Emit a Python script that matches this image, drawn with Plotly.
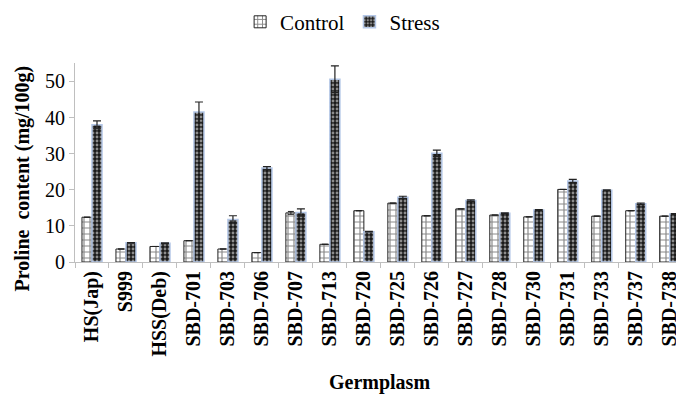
import plotly.graph_objects as go

germplasm = ["HS(Jap)", "S999", "HSS(Deb)", "SBD-701", "SBD-703", "SBD-706", "SBD-707",
             "SBD-713", "SBD-720", "SBD-725", "SBD-726", "SBD-727", "SBD-728", "SBD-730",
             "SBD-731", "SBD-733", "SBD-737", "SBD-738"]
control = [12.4, 3.6, 4.3, 5.9, 3.6, 2.6, 13.6, 4.9, 14.2, 16.3, 12.8, 14.7, 13.0, 12.5,
           20.1, 12.7, 14.2, 12.7]
control_err = [0, 0, 0, 0, 0, 0, 0.4, 0, 0, 0, 0, 0, 0, 0,
               0, 0, 0, 0]
stress = [38.0, 5.3, 5.2, 41.5, 11.8, 26.0, 13.7, 50.6, 8.4, 17.9, 30.1, 17.0, 13.5, 14.4,
          22.4, 19.9, 16.1, 13.3]
stress_err = [1.1, 0.1, 0.1, 2.8, 1.0, 0.4, 1.0, 3.7, 0.1, 0.3, 0.9, 0.2, 0.1, 0.1,
              0.5, 0.1, 0.2, 0.1]
y_ticks = [0, 10, 20, 30, 40, 50]

FONT = "Liberation Serif"

fig = go.Figure()
fig.add_trace(go.Bar(
    name="Control", x=germplasm, y=control,
    marker=dict(color="white", line=dict(color="#222222", width=1),
                pattern=dict(shape="+", fgcolor="#111111", bgcolor="white", size=6, solidity=0.35)),
    error_y=dict(type="data", array=control_err, color="#222222", thickness=1, width=3),
))
fig.add_trace(go.Bar(
    name="Stress", x=germplasm, y=stress,
    marker=dict(color="#1a1a1a", line=dict(color="#b4c7e7", width=1.5),
                pattern=dict(shape=".", fgcolor="white", bgcolor="#1a1a1a", size=4, solidity=0.4)),
    error_y=dict(type="data", array=stress_err, color="#222222", thickness=1.2, width=4),
))

fig.add_annotation(
    text="<b>Proline  content (mg/100g)</b>", textangle=-90,
    xref="paper", yref="paper", x=-0.087, y=0.42, xanchor="center", yanchor="middle",
    showarrow=False, font=dict(family=FONT, size=20, color="black"),
)

fig.update_layout(
    width=676, height=393,
    margin=dict(l=67, r=0, t=55, b=139),
    paper_bgcolor="white", plot_bgcolor="white",
    barmode="group", bargap=0.41, bargroupgap=0.0,
    font=dict(family=FONT, size=18, color="black"),
    legend=dict(orientation="h", x=0.495, xref="container", xanchor="center",
                y=0.964, yref="container", yanchor="middle",
                font=dict(family=FONT, size=21), itemwidth=30,
                bgcolor="rgba(0,0,0,0)"),
    xaxis=dict(
        range=[-0.5, 17.42], tickangle=-90, showgrid=False, automargin=False,
        showline=True, linecolor="#bfbfbf", linewidth=1,
        ticks="outside", tickson="boundaries", ticklen=5, tickcolor="#bfbfbf",
        tickfont=dict(family=FONT, size=20, color="black", weight="bold"),
        title=dict(text="<b>Germplasm</b>", font=dict(family=FONT, size=20), standoff=19),
    ),
    yaxis=dict(
        range=[0, 55.1], tickvals=y_ticks, showgrid=False, zeroline=False, automargin=False,
        showline=True, linecolor="#bfbfbf", linewidth=1,
        ticks="outside", ticklen=5, tickcolor="#bfbfbf",
        tickfont=dict(family=FONT, size=20),
    ),
)

fig.write_html("out.html")
